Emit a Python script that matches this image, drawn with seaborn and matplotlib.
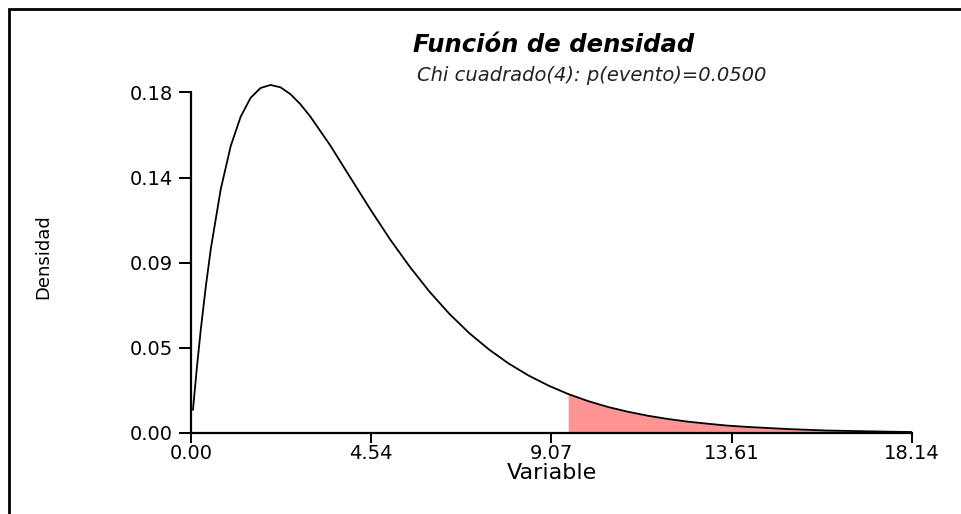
import matplotlib.pyplot as plt
import matplotlib.patches as mpatches
import numpy as np
import seaborn as sns

# chi-square(4) density, values
x_vals = [0.05, 0.15, 0.25, 0.375, 0.5, 0.75, 1.0, 1.25, 1.5, 1.75, 2.0, 2.25, 2.5,
          2.75, 3.0, 3.5, 4.0, 4.5, 5.0, 5.5, 6.0, 6.5, 7.0, 7.5, 8.0, 8.5, 9.0,
          9.49, 10.0, 10.5, 11.0, 11.5, 12.0, 12.5, 13.0, 13.5, 14.0, 15.0, 16.0,
          17.0, 18.14]
dens = [0.0122, 0.0348, 0.0552, 0.0776, 0.0974, 0.1289, 0.1516, 0.1671, 0.1771,
        0.1823, 0.1839, 0.1827, 0.1791, 0.1738, 0.1673, 0.1521, 0.1353, 0.1186,
        0.1026, 0.0880, 0.0747, 0.0630, 0.0528, 0.0441, 0.0366, 0.0303, 0.0250,
        0.0206, 0.0168, 0.0137, 0.0112, 0.0091, 0.0074, 0.0060, 0.0049, 0.0039,
        0.0032, 0.0021, 0.0013, 0.0009, 0.0005]
crit = 9.49  # upper 5% point

x_ticks = [0.0, 4.535, 9.07, 13.605, 18.14]
x_ticklabels = ["0.00", "4.54", "9.07", "13.61", "18.14"]
y_ticks = [0.0, 0.045, 0.09, 0.135, 0.18]
y_ticklabels = ["0.00", "0.05", "0.09", "0.14", "0.18"]

title = "Función de densidad"
subtitle = "Chi cuadrado(4): p(evento)=0.0500"

sns.set_style("white")
plt.rcParams['font.family'] = ['DejaVu Sans']
plt.rcParams['text.color'] = 'black'

fig = plt.figure(figsize=(9.62, 5.14), dpi=100)
ax = fig.add_axes([0.1985, 0.1576, 0.7495, 0.6848])

xa = np.array(x_vals)
ya = np.array(dens)
ax.fill_between(xa, 0, ya, where=xa >= crit, color="#ff9494", linewidth=0)
sns.lineplot(x=x_vals, y=dens, ax=ax, color="black", linewidth=1.3)

ax.set_xlim(0, 18.14)
ax.set_ylim(0, 0.186)
ax.set_xticks(x_ticks)
ax.set_xticklabels(x_ticklabels)
ax.set_yticks(y_ticks)
ax.set_yticklabels(y_ticklabels)

for s in ["top", "right"]:
    ax.spines[s].set_visible(False)
for s in ["left", "bottom"]:
    ax.spines[s].set_color("black")
    ax.spines[s].set_linewidth(1.6)
ax.spines["left"].set_bounds(0, 0.18)
ax.tick_params(axis="both", direction="out", width=1.4,
               colors="black", labelsize=14, left=True, bottom=True)
ax.tick_params(axis="y", length=9, pad=4)
ax.tick_params(axis="x", length=7, pad=1)

ax.set_xlabel("Variable", fontsize=16, labelpad=0, color="black")
ax.set_ylabel("Densidad", fontsize=13, labelpad=56, color="black")

fig.text(0.575, 0.912, title, ha="center", va="center", fontsize=17.5,
         fontweight="bold", fontstyle="italic", color="black")
fig.text(0.615, 0.854, subtitle, ha="center", va="center", fontsize=14,
         fontstyle="italic", color="#222222")

# frame round the figure (only top/left visible in the reference)
fig.patches.append(mpatches.Rectangle((0.0095, -0.02), 1.2, 1 - 0.0175 + 0.02,
                                      transform=fig.transFigure, fill=False,
                                      edgecolor="black", linewidth=2))

fig.savefig("out.png", dpi=100)
